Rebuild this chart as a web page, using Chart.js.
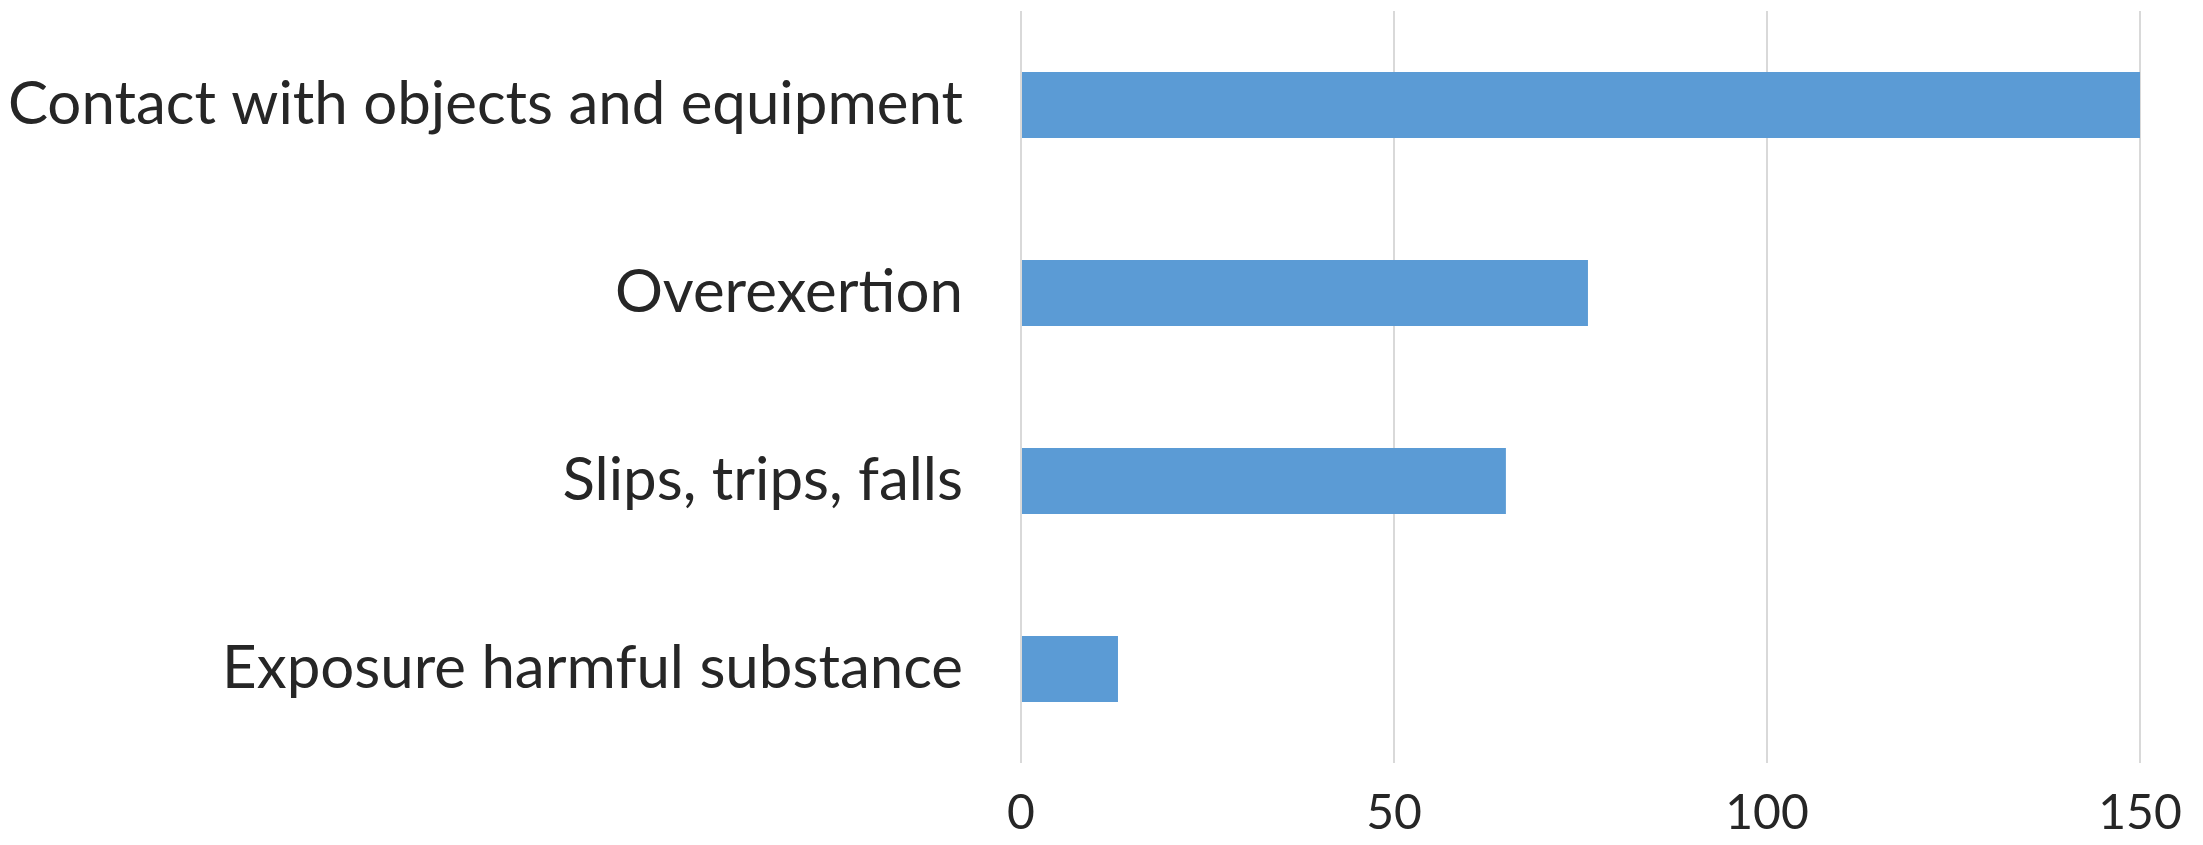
<!DOCTYPE html>
<html>
<head>
<meta charset="utf-8">
<script src="https://cdn.jsdelivr.net/npm/chart.js@4/dist/chart.umd.min.js"></script>
<style>
  html, body { margin: 0; padding: 0; background: #fff; }
  #wrap { width: 2203px; height: 845px; }
</style>
</head>
<body>
<div id="wrap"><canvas id="chart"></canvas></div>
<script>
// Injury categories and counts
const categories = [
  "Contact with objects and equipment",
  "Overexertion",
  "Slips, trips, falls",
  "Exposure harmful substance"
];
const counts = [150, 76, 65, 13];
const xTicks = [0, 50, 100, 150];

const FONT = "Lato, 'Open Sans', sans-serif";

// keep tick padding from pushing the plot area around
function noEdgePadding(scale) {
  scale.paddingTop = 0;
  scale.paddingBottom = 0;
  scale.paddingLeft = 0;
  scale.paddingRight = 0;
}

const ctx = document.getElementById("chart").getContext("2d");
new Chart(ctx, {
  type: "bar",
  data: {
    labels: categories,
    datasets: [{
      data: counts,
      backgroundColor: "#5B9BD5",
      borderWidth: 0,
      barPercentage: 0.35,
      categoryPercentage: 1.0
    }]
  },
  options: {
    indexAxis: "y",
    responsive: true,
    maintainAspectRatio: false,
    animation: false,
    layout: { padding: { top: 11, right: 63, bottom: 0, left: 0 } },
    plugins: {
      legend: { display: false },
      tooltip: { enabled: false }
    },
    scales: {
      x: {
        min: xTicks[0],
        max: xTicks[xTicks.length - 1],
        afterBuildTicks: (scale) => {
          scale.ticks = xTicks.map(v => ({ value: v }));
        },
        afterFit: (scale) => {
          scale.height = 82;
          noEdgePadding(scale);
        },
        grid: { color: "#d9d9d9", lineWidth: 2, drawTicks: false },
        border: { display: false },
        ticks: {
          color: "#262626",
          padding: 22,
          font: { family: FONT, size: 48 }
        }
      },
      y: {
        afterFit: (scale) => {
          scale.width = 1021;
          noEdgePadding(scale);
        },
        grid: { display: false },
        border: { display: false },
        ticks: {
          color: "#262626",
          padding: 50,
          font: { family: FONT, size: 60 }
        }
      }
    }
  }
});
</script>
</body>
</html>
